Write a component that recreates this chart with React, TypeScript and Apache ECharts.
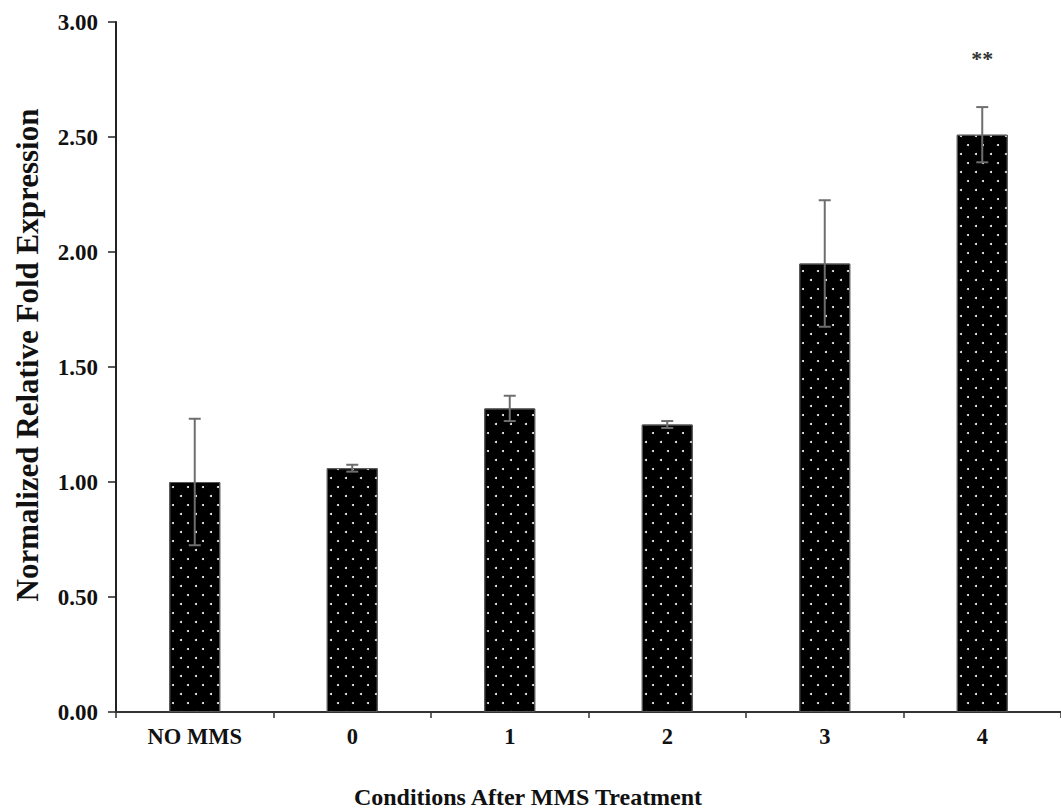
import React, { useEffect, useRef } from "react";
import * as echarts from "echarts";

const categories = ["NO MMS", "0", "1", "2", "3", "4"];
const means = [1.0, 1.06, 1.32, 1.25, 1.95, 2.51];
const errors = [0.275, 0.015, 0.055, 0.015, 0.275, 0.12];
const sigMarks = ["", "", "", "", "", "**"];
const yTicks = [0, 0.5, 1, 1.5, 2, 2.5, 3];

const FONT = "'Liberation Serif', 'Times New Roman', serif";

export default function App() {
  const ref = useRef<HTMLDivElement>(null);
  useEffect(() => {
    if (!ref.current) return;
    const chart = echarts.init(ref.current, null, { renderer: "svg" });
    const errData = means.map((m, i) => [i, m, errors[i]]);
    chart.setOption({
      animation: false,
      backgroundColor: "#fff",
      grid: { left: 116, top: 22, width: 947, height: 690, containLabel: false },
      xAxis: {
        type: "category",
        data: categories,
        axisLine: { lineStyle: { color: "#333", width: 2 } },
        axisTick: { show: true, length: 6, lineStyle: { color: "#333", width: 1.5 } },
        axisLabel: {
          margin: 13,
          color: "#111",
          fontFamily: FONT,
          fontWeight: "bold",
          fontSize: 22.5,
        },
      },
      yAxis: {
        type: "value",
        min: yTicks[0],
        max: yTicks[yTicks.length - 1],
        interval: 0.5,
        splitLine: { show: false },
        axisLine: { show: true, lineStyle: { color: "#222", width: 2 } },
        axisTick: { show: true, length: 8, lineStyle: { color: "#222", width: 1.5 } },
        axisLabel: {
          margin: 18,
          color: "#111",
          fontFamily: FONT,
          fontWeight: "bold",
          fontSize: 23,
          formatter: (v: number) => v.toFixed(2),
        },
      },
      graphic: [
        {
          type: "text",
          x: 528,
          y: 797,
          style: {
            text: "Conditions After MMS Treatment",
            fontFamily: FONT,
            fontWeight: "bold",
            fontSize: 24,
            fill: "#111",
            align: "center",
            verticalAlign: "middle",
          },
        },
        {
          type: "text",
          x: 27,
          y: 355,
          rotation: Math.PI / 2,
          style: {
            text: "Normalized Relative Fold Expression",
            fontFamily: FONT,
            fontWeight: "bold",
            fontSize: 31,
            fill: "#111",
            align: "center",
            verticalAlign: "middle",
          },
        },
      ],
      series: [
        {
          type: "bar",
          data: means,
          barWidth: 51,
          itemStyle: {
            color: "#000",
            borderColor: "#555",
            borderWidth: 1,
            decal: {
              symbol: "circle",
              symbolSize: 1,
              color: "#fff",
              dashArrayX: [[2, 13], [0, 7, 2, 6]],
              dashArrayY: [2, 7],
              rotation: 0,
            },
          },
          z: 2,
        },
        {
          type: "custom",
          data: errData,
          z: 5,
          renderItem: (params: any, api: any) => {
            const i = api.value(0);
            const m = api.value(1);
            const e = api.value(2);
            const mark = sigMarks[i];
            const top = api.coord([i, m + e]);
            const bot = api.coord([i, m - e]);
            const cap = 6;
            const ls = { stroke: "#6e6e6e", lineWidth: 2 };
            const children: any[] = [
              { type: "line", shape: { x1: top[0], y1: top[1], x2: bot[0], y2: bot[1] }, style: ls },
              { type: "line", shape: { x1: top[0] - cap, y1: top[1], x2: top[0] + cap, y2: top[1] }, style: ls },
              { type: "line", shape: { x1: bot[0] - cap, y1: bot[1], x2: bot[0] + cap, y2: bot[1] }, style: ls },
            ];
            if (mark) {
              children.push({
                type: "text",
                x: top[0],
                y: top[1] - 49,
                style: {
                  text: mark,
                  fontFamily: FONT,
                  fontWeight: "bold",
                  fontSize: 22,
                  fill: "#333",
                  align: "center",
                  verticalAlign: "middle",
                },
              });
            }
            return { type: "group", children };
          },
        },
      ],
    });
    return () => chart.dispose();
  }, []);
  return (
    <div
      ref={ref}
      style={{ position: "fixed", left: 0, top: 0, width: 1061, height: 811, background: "#fff" }}
    />
  );
}
